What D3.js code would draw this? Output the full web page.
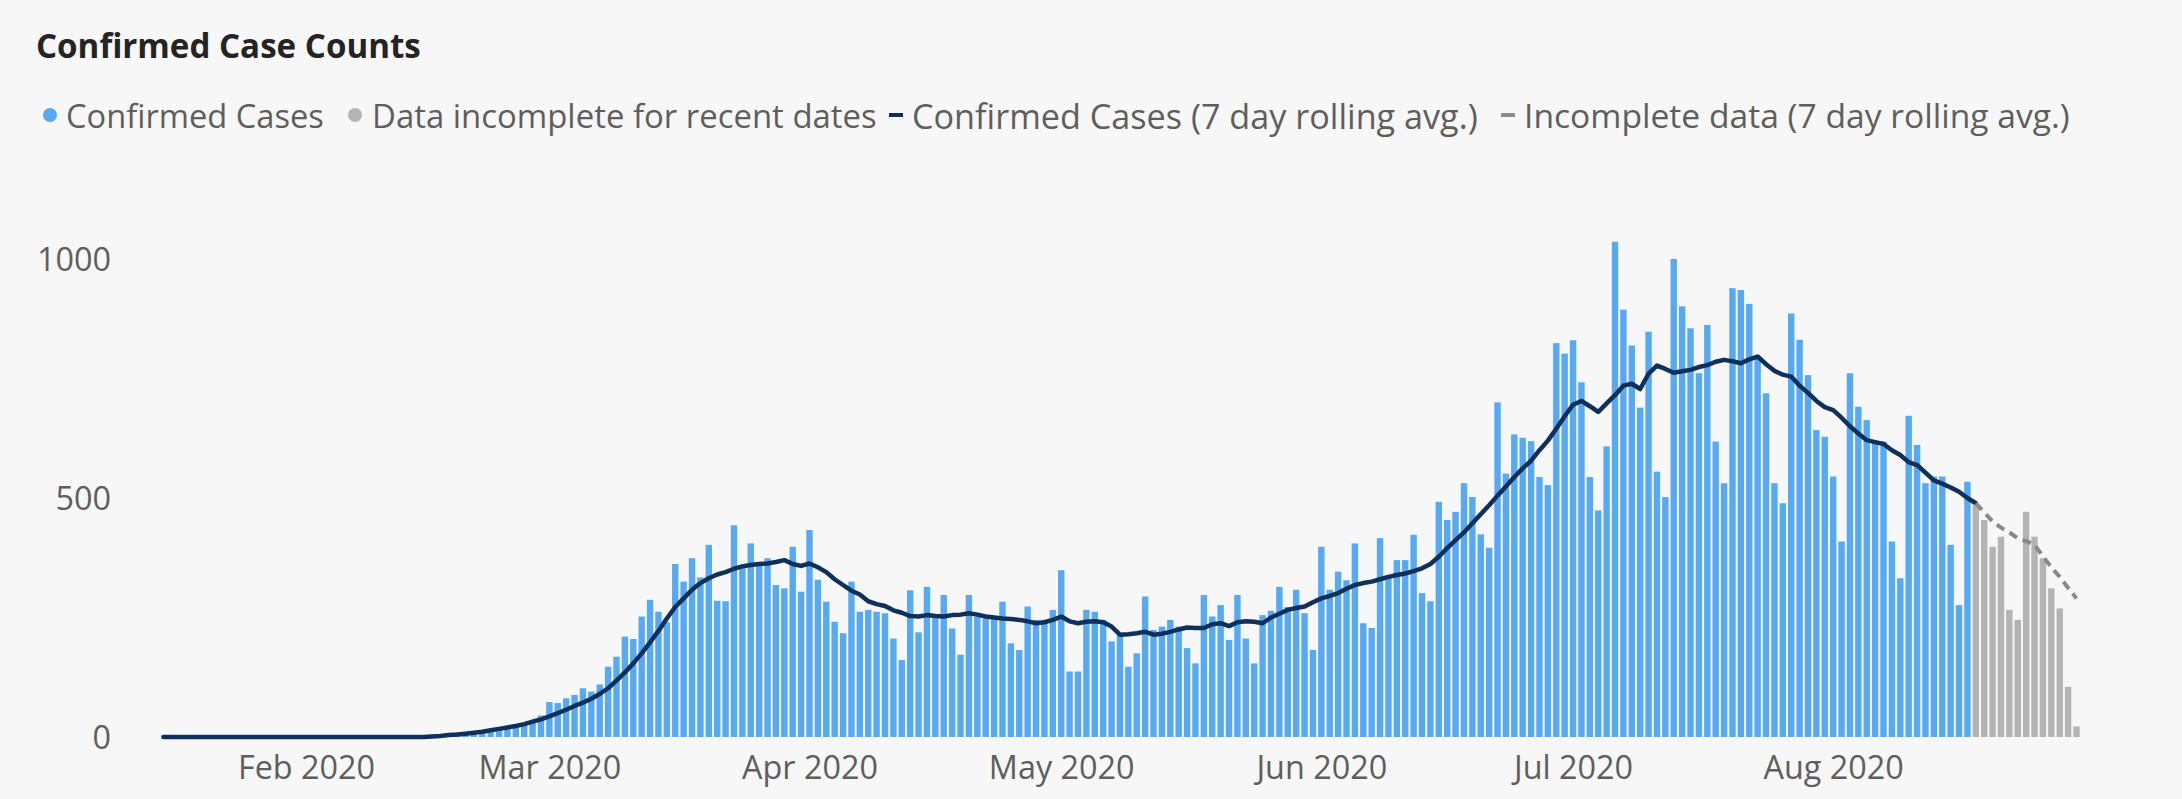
<!DOCTYPE html>
<html><head><meta charset="utf-8">
<script src="https://cdn.jsdelivr.net/npm/d3@7"></script>
<style>
html,body{margin:0;padding:0;background:#f7f7f7;}
svg{display:block;}
</style></head><body>
<svg id="chart" width="2182" height="799"></svg>
<script>
// ---- data ----
const startDate = "2020-01-15";
const confirmedCases = [
  0,0,0,0,0,0,0,0,0,0, 0,0,0,0,0,0,0,0,0,0, 0,0,0,0,0,0,0,0,0,0,
  1,2,3,4,5,6,8,10,12,15,18,20,25,28,35,45,
  73,71,81,88,102,95,110,147,168,210,
  205,252,287,262,240,362,325,374,334,402,
  285,284,443,360,405,365,374,318,311,398,
  304,433,329,283,241,217,325,262,266,262,
  259,206,161,307,219,314,257,297,227,172,
  297,252,248,252,283,196,182,273,245,245,
  266,349,137,137,266,262,245,200,213,147,
  175,294,224,231,245,231,186,154,297,252,
  276,203,297,206,154,255,264,314,272,308,
  259,182,398,308,346,328,405,238,228,416,
  335,370,370,423,301,284,492,454,471,531,
  502,424,396,700,551,633,626,619,544,527,
  824,802,830,742,544,474,608,1036,894,819,
  689,848,555,502,1000,901,855,761,862,618,
  531,939,935,906,796,719,531,489,886,831,
  757,642,628,545,409,761,691,663,618,618,
  409,332,672,611,531,545,545,402,276,534
];
const incompleteCases = [485,454,398,419,266,245,471,419,374,311,269,105,22];
const rollingAvg = [
  0,0,0,0,0,0,0,0,0,0, 0,0,0,0,0,0,0,0,0,0, 0,0,0,0,0,0,0,0,0,0, 0,0,
  1,2,4,5,7,9,11,14,17,20,23,27,32,37,
  43,50,57,65,72,80,90,102,118,135,
  154,175,198,222,248,272,290,308,322,332,
  340,345,352,357,360,362,363,366,370,362,
  358,363,355,345,330,318,306,298,284,278,
  274,265,260,253,252,255,253,252,255,256,
  259,256,252,250,248,247,245,242,238,240,
  245,252,242,238,241,242,240,231,214,215,
  217,220,214,216,220,225,229,228,228,236,
  238,232,240,242,241,238,250,258,266,270,
  273,282,290,295,301,310,318,322,325,330,
  335,339,342,347,353,362,377,395,412,428,
  447,466,485,505,524,544,562,578,600,620,
  645,671,695,703,692,680,698,715,735,739,
  728,760,777,770,762,765,768,774,778,785,
  789,786,782,790,796,780,766,758,754,735,
  720,703,690,684,668,650,635,621,617,613,
  600,590,575,569,553,537,530,522,513,500,
  489
];
const incompleteAvg = [489,470,451,438,428,416,410,402,378,355,335,312,290];
const yTicks = [0, 500, 1000];
const monthTicks = ["2020-02-01","2020-03-01","2020-04-01","2020-05-01","2020-06-01","2020-07-01","2020-08-01"];
const titleText = "Confirmed Case Counts";
const legendLabels = ["Confirmed Cases","Data incomplete for recent dates","Confirmed Cases (7 day rolling avg.)","Incomplete data (7 day rolling avg.)"];

// ---- drawing ----
const parse = d3.utcParse("%Y-%m-%d");
const t0 = parse(startDate);
const dayAt = i => d3.utcDay.offset(t0, i);
const nComplete = confirmedCases.length;
const total = nComplete + incompleteCases.length;

const svg = d3.select("#chart");
svg.append("rect").attr("width",2182).attr("height",799).attr("fill","#f7f7f7");

const x = d3.scaleUtc().domain([t0, dayAt(total - 1)]).range([163.4, 2076.5]);
const y = d3.scaleLinear().domain([0, 1000]).range([737, 259]);
const bw = 6.4;

const FONT = "'Open Sans', 'Noto Sans', sans-serif";
function fit(sel, target, base) {
  sel.style("font-size", base + "px");
  const w = sel.node().getComputedTextLength();
  const s = base * target / w;
  sel.style("font-size", s + "px");
  return s;
}

// title
const title = svg.append("text").attr("x", 36).attr("y", 45)
  .attr("dominant-baseline","central")
  .style("font-family", FONT).style("font-weight", 700).attr("fill","#252423")
  .text(titleText);
fit(title, 385, 28);

// legend
const legendY = 115;
const legendItems = [
  {label: legendLabels[0], type:"dot", color:"#58a9f4", mx:50, tx:66, tw:258},
  {label: legendLabels[1], type:"dot", color:"#b4b4b4", mx:355, tx:372, tw:505},
  {label: legendLabels[2], type:"dash", color:"#10305c", mx:896, tx:912, tw:566},
  {label: legendLabels[3], type:"dash", color:"#8c8c8c", mx:1508, tx:1524, tw:546}
];
const lg = svg.append("g");
legendItems.forEach(it => {
  if (it.type === "dot") {
    lg.append("circle").attr("cx", it.mx).attr("cy", legendY).attr("r", 7).attr("fill", it.color);
  } else {
    lg.append("line").attr("x1", it.mx - 7).attr("x2", it.mx + 7)
      .attr("y1", legendY).attr("y2", legendY)
      .attr("stroke", it.color).attr("stroke-width", 4);
  }
  const t = lg.append("text").attr("x", it.tx).attr("y", legendY)
    .attr("dominant-baseline","central")
    .style("font-family", FONT).attr("fill", "#605e5c").text(it.label);
  fit(t, it.tw, 30);
});

// bars
const barsG = svg.append("g");
barsG.selectAll("rect.c").data(confirmedCases).join("rect").attr("class","c")
  .attr("x", (d,i) => x(dayAt(i)) - bw/2)
  .attr("width", bw)
  .attr("y", d => y(d))
  .attr("height", d => y(0) - y(d))
  .attr("fill", "#58a9f4");
barsG.selectAll("rect.g").data(incompleteCases).join("rect").attr("class","g")
  .attr("x", (d,i) => x(dayAt(nComplete + i)) - bw/2)
  .attr("width", bw)
  .attr("y", d => y(d))
  .attr("height", d => y(0) - y(d))
  .attr("fill", "#b4b4b4");

// lines
const lineMain = d3.line().x((d,i) => x(dayAt(i))).y(d => y(d));
svg.append("path").datum(rollingAvg)
  .attr("d", lineMain).attr("fill","none")
  .attr("stroke","#10305c").attr("stroke-width",4.5)
  .attr("stroke-linejoin","round").attr("stroke-linecap","round");
const offs = rollingAvg.length - 1;
const lineInc = d3.line().x((d,i) => x(dayAt(offs + i))).y(d => y(d));
svg.append("path").datum(incompleteAvg)
  .attr("d", lineInc).attr("fill","none")
  .attr("stroke","#888888").attr("stroke-width",4)
  .attr("stroke-dasharray","9,6");

// axes
const xAxis = svg.append("g").attr("transform","translate(0,768)")
  .call(d3.axisBottom(x).tickValues(monthTicks.map(parse))
    .tickFormat(d3.utcFormat("%b %Y")).tickSize(0).tickPadding(0));
xAxis.select(".domain").remove();
xAxis.selectAll("text").attr("y",0).attr("dy","0.35em")
  .style("font-family", FONT).attr("fill","#605e5c");
// fit axis font using the April label
const aprNode = xAxis.selectAll("text").filter(d => d.getUTCMonth() === 3);
const axisSize = fit(aprNode, 136, 30);
xAxis.selectAll("text").style("font-size", axisSize + "px");

const yAxis = svg.append("g").attr("transform","translate(111,0)")
  .call(d3.axisLeft(y).tickValues(yTicks).tickFormat(d3.format("d")).tickSize(0).tickPadding(0));
yAxis.select(".domain").remove();
yAxis.selectAll("text").attr("x",0).attr("dy","0.35em")
  .style("font-family", FONT).style("font-size", axisSize + "px").attr("fill","#605e5c");
</script>
</body></html>
